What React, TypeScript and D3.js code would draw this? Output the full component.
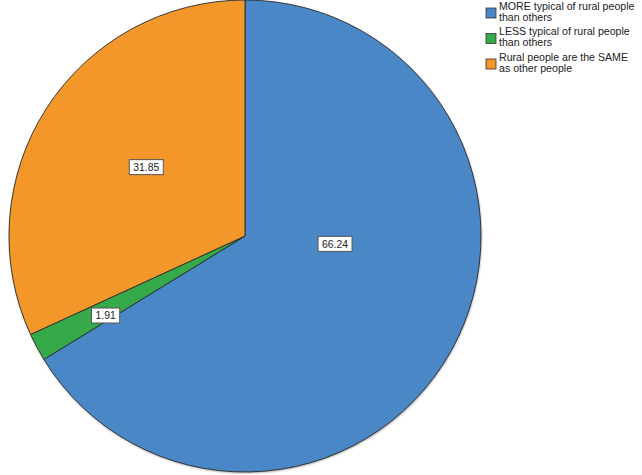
import React from "react";
import * as d3 from "d3";

const categories = [
  "MORE typical of rural people than others",
  "LESS typical of rural people than others",
  "Rural people are the SAME as other people",
];
const legendLines = [
  ["MORE typical of rural people", "than others"],
  ["LESS typical of rural people", "than others"],
  ["Rural people are the SAME", "as other people"],
];
const values = [66.24, 1.91, 31.85];
const labels = ["66.24", "1.91", "31.85"];
const colors = ["#4a87c7", "#36a94a", "#f3972b"];
// label placement: [angle in degrees clockwise from top, radius fraction]
const labelPlacement: [number, number][] = [
  [95, 0.383],
  [240.3, 0.68],
  [304.9, 0.51],
];

const W = 642;
const H = 475;
const cx = 245;
const cy = 236;
const R = 236;

export default function App() {
  const pie = d3.pie<number>().sort(null).value((d) => d);
  const arcs = pie(values);
  const arc = d3.arc<d3.PieArcDatum<number>>().innerRadius(0).outerRadius(R);

  return (
    <svg
      width={W}
      height={H}
      style={{ position: "absolute", left: 0, top: 0, background: "#fff" }}
      fontFamily="'Liberation Sans', Arial, sans-serif"
    >
      <defs>
        <filter id="sh" x="-5%" y="-5%" width="110%" height="110%">
          <feGaussianBlur stdDeviation="1.2" />
        </filter>
      </defs>
      <circle cx={cx + 0.5} cy={cy + 1} r={R} fill="#999" filter="url(#sh)" />
      <g transform={`translate(${cx},${cy})`}>
        {arcs.map((a, i) => (
          <path
            key={i}
            d={arc(a) || ""}
            fill={colors[i]}
            stroke="#2a2a2a"
            strokeWidth={0.9}
            strokeLinejoin="round"
          />
        ))}
      </g>
      {labels.map((t, i) => {
        const [ang, frac] = labelPlacement[i];
        const th = (ang * Math.PI) / 180;
        const x = cx + R * frac * Math.sin(th);
        const y = cy - R * frac * Math.cos(th);
        const w = t.length * 5.8 + 5;
        const h = 15;
        return (
          <g key={i}>
            <rect
              x={x - w / 2}
              y={y - h / 2}
              width={w}
              height={h}
              fill="#fff"
              stroke="#555"
              strokeWidth={1}
            />
            <text
              x={x}
              y={y + 3.7}
              textAnchor="middle"
              fontSize={10.4}
              fill="#222"
            >
              {t}
            </text>
          </g>
        );
      })}
      {categories.map((c, i) => {
        const y0 = 8 + i * 25.5;
        return (
          <g key={c}>
            <rect
              x={486}
              y={y0}
              width={10}
              height={10}
              fill={colors[i]}
              stroke="#333"
              strokeWidth={0.8}
            />
            {legendLines[i].map((ln, j) => (
              <text key={j} x={499} y={y0 + 1.5 + j * 11} fontSize={10.6} fill="#222">
                {ln}
              </text>
            ))}
          </g>
        );
      })}
    </svg>
  );
}
